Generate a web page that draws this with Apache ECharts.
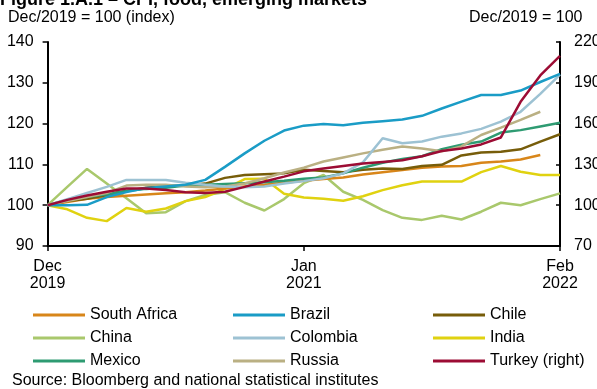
<!DOCTYPE html>
<html>
<head>
<meta charset="utf-8">
<script src="https://cdn.jsdelivr.net/npm/echarts@6/dist/echarts.min.js"></script>
<style>
  html, body { margin: 0; padding: 0; background: #ffffff; }
  #chart { width: 597px; height: 389px; }
</style>
</head>
<body>
<div id="chart"></div>
<script>
// Monthly food CPI, Dec 2019 = 100
const months = [
  'Dec 2019', 'Jan 2020', 'Feb 2020', 'Mar 2020', 'Apr 2020', 'May 2020', 'Jun 2020',
  'Jul 2020', 'Aug 2020', 'Sep 2020', 'Oct 2020', 'Nov 2020', 'Dec 2020',
  'Jan 2021', 'Feb 2021', 'Mar 2021', 'Apr 2021', 'May 2021', 'Jun 2021',
  'Jul 2021', 'Aug 2021', 'Sep 2021', 'Oct 2021', 'Nov 2021', 'Dec 2021',
  'Jan 2022', 'Feb 2022'
];
const tickIndex = [0, 13, 26];
const tickText = ['Dec\n2019', 'Jan\n2021', 'Feb\n2022'];

const southAfrica = [100, 100.8, 101.6, 102.0, 102.3, 102.6, 102.9, 103.2, 103.6, 104.1, 104.6, 105.0, 105.5,
  106.0, 106.4, 106.8, 107.5, 108.1, 108.6, 109.2, 109.5, 109.6, 110.4, 110.7, 111.2, 112.3];
const brazil = [100, 100.0, 100.1, 102.0, 103.2, 104.2, 104.6, 105.0, 106.2, 109.4, 112.7, 115.8, 118.3,
  119.5, 119.9, 119.6, 120.2, 120.6, 121.0, 121.9, 123.7, 125.4, 127.0, 127.0, 128.1, 130.2, 132.2];
const chile = [100, 101.0, 101.6, 102.5, 103.5, 104.3, 104.7, 104.8, 105.3, 106.7, 107.4, 107.6, 107.8,
  108.7, 108.4, 108.1, 108.7, 109.0, 108.9, 109.6, 109.9, 112.2, 112.9, 113.1, 113.7, 115.6, 117.4];
const china = [100, 104.5, 108.9, 105.3, 101.7, 98.0, 98.3, 101.0, 102.5, 103.2, 100.6, 98.7, 101.5,
  105.4, 107.4, 103.3, 101.3, 98.8, 96.9, 96.4, 97.4, 96.5, 98.4, 100.6, 100.0, 101.5, 102.9];
const colombia = [100, 101.5, 103.0, 104.5, 106.2, 106.2, 106.2, 105.5, 105.0, 104.6, 104.4, 104.6, 105.3,
  105.9, 106.6, 107.8, 110.5, 116.4, 115.2, 115.6, 116.8, 117.6, 118.7, 120.5, 122.9, 127.3, 132.0];
const india = [100, 99.0, 96.9, 96.1, 99.3, 98.4, 99.2, 101.0, 102.0, 104.0, 106.4, 106.5, 102.8,
  101.9, 101.6, 101.1, 102.2, 103.7, 104.9, 105.8, 105.8, 105.8, 108.1, 109.6, 108.2, 107.4, 107.4];
const mexico = [100, 101.3, 102.0, 102.7, 103.5, 104.0, 104.3, 104.8, 105.0, 105.2, 105.4, 105.6, 106.0,
  106.5, 106.8, 107.8, 109.2, 110.4, 111.3, 112.0, 113.7, 114.8, 115.6, 117.8, 118.4, 119.3, 120.2];
const russia = [100, 101.0, 102.0, 103.0, 104.8, 105.0, 105.0, 104.6, 104.4, 104.6, 105.3, 106.6, 108.0,
  109.2, 110.7, 111.7, 112.7, 113.6, 114.4, 113.9, 113.2, 114.4, 117.2, 119.0, 120.9, 122.9];
// Turkey is read against the right-hand scale
const turkey = [100, 103.9, 107.2, 109.9, 112.3, 112.3, 111.1, 109.6, 109.0, 109.9, 113.5, 117.4, 121.0,
  124.9, 127.0, 128.8, 130.6, 131.8, 133.0, 136.0, 139.9, 141.7, 144.7, 149.8, 176.0, 195.4, 209.8];

const colors = {
  'South Africa': '#D8861A',
  'Brazil': '#1A9CC6',
  'Chile': '#775D0A',
  'China': '#A9C86C',
  'Colombia': '#9DC2D3',
  'India': '#E0D210',
  'Mexico': '#2E9B72',
  'Russia': '#BAB083',
  'Turkey (right)': '#9C0C34'
};

const seriesData = [
  ['China', china, 0],
  ['India', india, 0],
  ['South Africa', southAfrica, 0],
  ['Chile', chile, 0],
  ['Mexico', mexico, 0],
  ['Russia', russia, 0],
  ['Colombia', colombia, 0],
  ['Brazil', brazil, 0],
  ['Turkey (right)', turkey, 1]
];

const FONT = 'Liberation Sans, Arial, sans-serif';
const chart = echarts.init(document.getElementById('chart'), null, { renderer: 'canvas' });

const legendBase = {
  orient: 'vertical',
  top: 307,
  padding: 0,
  itemWidth: 52,
  itemHeight: 3,
  itemGap: 7,
  icon: 'rect',
  selectedMode: false,
  textStyle: { fontFamily: FONT, fontSize: 16, color: '#000', lineHeight: 16 }
};

chart.setOption({
  animation: false,
  backgroundColor: '#ffffff',
  textStyle: { fontFamily: FONT },
  grid: { left: 47.6, right: 37, top: 42, bottom: 143, containLabel: false, outerBoundsMode: 'none' },
  graphic: [
    { type: 'text', left: 0, top: -9, style: { text: 'Figure 1.A.1 \u2013 CPI, food, emerging markets',
      font: 'bold 18px ' + FONT, fill: '#000' } },
    { type: 'text', left: 8, top: 10, style: { text: 'Dec/2019 = 100 (index)', font: '16px ' + FONT, fill: '#000' } },
    { type: 'text', left: 469, top: 10, style: { text: 'Dec/2019 = 100', font: '16px ' + FONT, fill: '#000' } },
    { type: 'text', left: 12, top: 373, style: { text: 'Source: Bloomberg and national statistical institutes',
      font: '16px ' + FONT, fill: '#000' } }
  ],
  legend: [
    Object.assign({}, legendBase, { left: 33, data: ['South Africa', 'China', 'Mexico'] }),
    Object.assign({}, legendBase, { left: 233, data: ['Brazil', 'Colombia', 'Russia'] }),
    Object.assign({}, legendBase, { left: 433, data: ['Chile', 'India', 'Turkey (right)'] })
  ],
  xAxis: {
    type: 'category',
    data: months,
    boundaryGap: false,
    axisLine: { lineStyle: { color: '#000', width: 2 } },
    axisTick: {
      show: true, length: 5, inside: false,
      interval: (i) => tickIndex.includes(i),
      lineStyle: { color: '#000', width: 1.5 }
    },
    axisLabel: {
      interval: (i) => tickIndex.includes(i),
      formatter: (v, i) => tickText[tickIndex.indexOf(i)] || '',
      color: '#000', fontSize: 16, lineHeight: 17, margin: 12, fontFamily: FONT
    },
    splitLine: { show: false }
  },
  yAxis: [
    {
      type: 'value', min: 90, max: 140, interval: 10, position: 'left',
      axisLine: { show: true, lineStyle: { color: '#000', width: 2 } },
      axisTick: { show: true, length: 5, lineStyle: { color: '#000', width: 1.5 } },
      axisLabel: { color: '#000', fontSize: 16, margin: 14, fontFamily: FONT },
      splitLine: { show: false }
    },
    {
      type: 'value', min: 70, max: 220, interval: 30, position: 'right',
      axisLine: { show: true, lineStyle: { color: '#000', width: 2 } },
      axisTick: { show: true, inside: true, length: 4, lineStyle: { color: '#000', width: 1.5 } },
      axisLabel: { color: '#000', fontSize: 16, margin: 14, fontFamily: FONT },
      splitLine: { show: false }
    }
  ],
  series: seriesData.map(([name, data, axis]) => ({
    name, type: 'line', data, yAxisIndex: axis,
    symbol: 'none', smooth: false,
    color: colors[name],
    lineStyle: { width: 2.5, color: colors[name] },
    emphasis: { disabled: true }
  }))
});
</script>
</body>
</html>
